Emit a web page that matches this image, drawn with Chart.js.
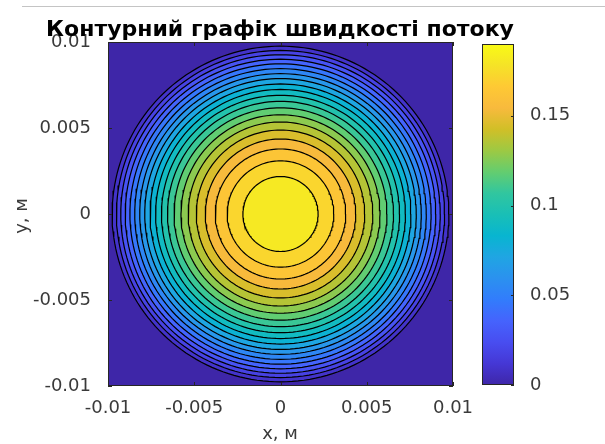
<!DOCTYPE html>
<html>
<head>
<meta charset="utf-8">
<script src="https://cdn.jsdelivr.net/npm/chart.js@4.4.0/dist/chart.umd.min.js"></script>
<style>
html, body { margin: 0; padding: 0; background: #fff; }
#wrap { position: relative; width: 605px; height: 444px; overflow: hidden; }
#wrap canvas { position: absolute; left: 0; top: 0; }
#topline { position: absolute; left: 22px; right: 0; top: 6px; height: 1px; background: #c4c4c4; }
</style>
</head>
<body>
<div id="wrap">
  <div id="topline"></div>
  <canvas id="plot" width="605" height="444"></canvas>
  <canvas id="cbar" width="605" height="444"></canvas>
</div>
<script>
// contour levels of the speed (m/s), outer ring first
var levels = [0.009, 0.018, 0.027, 0.036, 0.045, 0.054, 0.063, 0.072, 0.081, 0.090,
              0.100, 0.109, 0.118, 0.127, 0.136, 0.145, 0.154, 0.163, 0.172, 0.181];
// radius of each contour ring in metres
var ringRadii = [0.00976, 0.00951, 0.00926, 0.00900, 0.00873, 0.00845, 0.00816, 0.00787, 0.00756, 0.00724,
                 0.00690, 0.00655, 0.00617, 0.00577, 0.00535, 0.00488, 0.00436, 0.00378, 0.00309, 0.00218];
var vMax = 0.19;
var axisTicks = [-0.01, -0.005, 0, 0.005, 0.01];
var cbarTicks = [0, 0.05, 0.1, 0.15];

// parula colormap stops
var parulaStops = [[62,38,168],[69,55,213],[72,77,240],[69,99,253],[50,124,252],[43,145,239],
                   [32,165,227],[8,181,208],[25,191,182],[49,198,159],[100,205,111],[157,201,67],
                   [209,191,39],[248,186,61],[254,201,52],[245,227,39],[249,251,21]];

function parula(t) {
  t = Math.max(0, Math.min(1, t));
  var f = t * (parulaStops.length - 1);
  var i = Math.min(Math.floor(f), parulaStops.length - 2);
  var u = f - i, a = parulaStops[i], b = parulaStops[i + 1];
  var c = [0, 1, 2].map(function (j) { return Math.round(a[j] + (b[j] - a[j]) * u); });
  return 'rgb(' + c.join(',') + ')';
}

function ring(r) {
  var pts = [];
  for (var i = 0; i <= 180; i++) {
    var a = i / 180 * 2 * Math.PI;
    pts.push({ x: r * Math.cos(a), y: r * Math.sin(a) });
  }
  return pts;
}

var textColor = '#3a3a3a';
Chart.defaults.font.family = '"DejaVu Sans", sans-serif';
Chart.defaults.font.size = 18;
Chart.defaults.color = textColor;

// innermost ring first so it is drawn on top
var datasets = [];
for (var k = levels.length - 1; k >= 0; k--) {
  datasets.push({
    data: ring(ringRadii[k]),
    showLine: true,
    fill: 'shape',
    backgroundColor: parula(levels[k] / vMax),
    borderColor: '#000',
    borderWidth: 1.2,
    pointRadius: 0,
    tension: 0
  });
}

function fixTicks(list) {
  return function (scale) { scale.ticks = list.map(function (v) { return { value: v }; }); };
}

var framePlugin = {
  id: 'frame',
  beforeDatasetsDraw: function (chart) {
    var a = chart.chartArea, c = chart.ctx;
    c.save();
    c.fillStyle = parula(0);
    c.fillRect(a.left, a.top, a.right - a.left, a.bottom - a.top);
    c.restore();
  },
  afterDatasetsDraw: function (chart) {
    var a = chart.chartArea, c = chart.ctx;
    c.save();
    c.strokeStyle = '#262626';
    c.lineWidth = 1;
    c.strokeRect(a.left + 0.5, a.top + 0.5, a.right - a.left - 1, a.bottom - a.top - 1);
    c.beginPath();
    axisTicks.forEach(function (v) {
      var px = Math.round(chart.scales.x.getPixelForValue(v)) + 0.5;
      var py = Math.round(chart.scales.y.getPixelForValue(v)) + 0.5;
      c.moveTo(px, a.bottom); c.lineTo(px, a.bottom - 4);
      c.moveTo(px, a.top); c.lineTo(px, a.top + 4);
      c.moveTo(a.left, py); c.lineTo(a.left + 4, py);
      c.moveTo(a.right, py); c.lineTo(a.right - 4, py);
    });
    c.stroke();
    c.restore();
  },
  afterDraw: function (chart) {
    var c = chart.ctx;
    c.save();
    c.fillStyle = '#000';
    c.textAlign = 'center';
    c.textBaseline = 'alphabetic';
    c.font = 'bold 22px "DejaVu Sans", sans-serif';
    c.fillText('Контурний графік швидкості потоку', 280, 36);
    c.fillStyle = textColor;
    c.font = '18px "DejaVu Sans", sans-serif';
    c.textBaseline = 'middle';
    c.fillText('x, м', 280, 434);
    c.translate(22, 216);
    c.rotate(-Math.PI / 2);
    c.fillText('у, м', 0, 0);
    c.restore();
  }
};

new Chart(document.getElementById('plot'), {
  type: 'scatter',
  data: { datasets: datasets },
  options: {
    responsive: false,
    animation: false,
    layout: { padding: { left: 0, top: 42, right: 152, bottom: 0 } },
    plugins: { legend: { display: false }, tooltip: { enabled: false } },
    scales: {
      x: {
        min: -0.01, max: 0.01,
        grid: { display: false }, border: { display: false },
        afterBuildTicks: fixTicks(axisTicks),
        afterFit: function (s) { s.height = 58; },
        ticks: { padding: 4, maxRotation: 0, callback: function (v) { return String(v); } }
      },
      y: {
        min: -0.01, max: 0.01,
        grid: { display: false }, border: { display: false },
        afterBuildTicks: fixTicks(axisTicks),
        afterFit: function (s) { s.width = 108; },
        ticks: { padding: 9, callback: function (v) { return String(v); } }
      }
    }
  },
  plugins: [framePlugin]
});

// colour bar
var cbarPlugin = {
  id: 'cbarTicks',
  afterDatasetsDraw: function (chart) {
    var a = chart.chartArea, c = chart.ctx;
    c.save();
    c.strokeStyle = '#262626';
    c.lineWidth = 1;
    c.strokeRect(a.left + 0.5, a.top + 0.5, a.right - a.left - 1, a.bottom - a.top - 1);
    c.beginPath();
    cbarTicks.forEach(function (v) {
      var py = Math.round(chart.scales.y.getPixelForValue(v)) + 0.5;
      c.moveTo(a.right, py); c.lineTo(a.right - 3, py);
    });
    c.stroke();
    c.restore();
  }
};

new Chart(document.getElementById('cbar'), {
  type: 'bar',
  data: {
    labels: [''],
    datasets: [{
      data: [[0, vMax]],
      backgroundColor: function (ctx) {
        var a = ctx.chart.chartArea;
        if (!a) return parula(0.5);
        var g = ctx.chart.ctx.createLinearGradient(0, a.bottom, 0, a.top);
        for (var i = 0; i < parulaStops.length; i++) {
          var t = i / (parulaStops.length - 1);
          g.addColorStop(t, parula(t));
        }
        return g;
      },
      borderWidth: 0,
      categoryPercentage: 1,
      barPercentage: 1
    }]
  },
  options: {
    responsive: false,
    animation: false,
    layout: { padding: { left: 482, top: 44, right: 0, bottom: 59 } },
    plugins: { legend: { display: false }, tooltip: { enabled: false } },
    scales: {
      x: { display: false },
      y: {
        position: 'right',
        min: 0, max: vMax,
        grid: { display: false }, border: { display: false },
        afterBuildTicks: fixTicks(cbarTicks),
        afterFit: function (s) { s.width = 91; },
        ticks: { padding: 8, callback: function (v) { return String(v); } }
      }
    }
  },
  plugins: [cbarPlugin]
});
</script>
</body>
</html>
